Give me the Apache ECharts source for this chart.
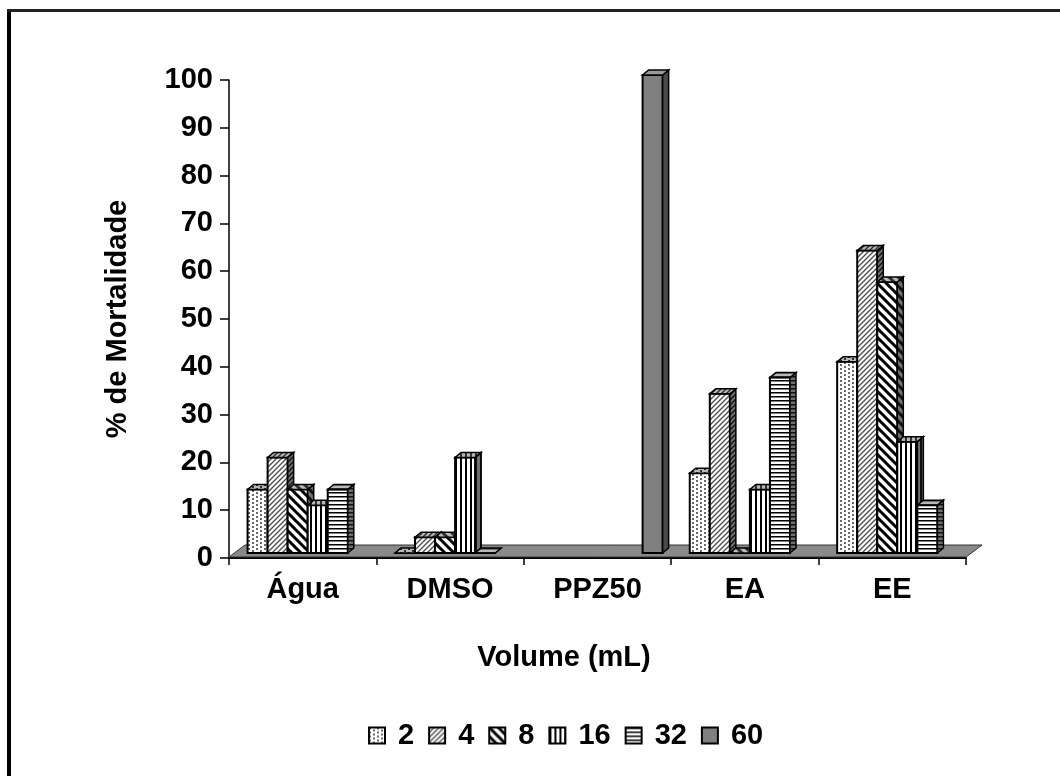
<!DOCTYPE html>
<html>
<head>
<meta charset="utf-8">
<script src="https://cdn.jsdelivr.net/npm/echarts@6/dist/echarts.min.js"></script>
<style>
html,body{margin:0;padding:0;background:#fff;}
#chart{width:1060px;height:776px;}
</style>
</head>
<body>
<div id="chart"></div>
<script>
// ---- data ----
const categories = ['Água', 'DMSO', 'PPZ50', 'EA', 'EE'];
const seriesNames = ['2', '4', '8', '16', '32', '60'];
const v2  = [13.3, 0,   null, 16.7, 40];
const v4  = [20,   3.3, null, 33.3, 63.3];
const v8  = [13.3, 3.3, null, 0,    56.7];
const v16 = [10,   20,  null, 13.3, 23.3];
const v32 = [13.3, 0,   null, 36.7, 10];
const v60 = [null, null, 100, null, null];
const yMin = 0, yMax = 100, yInterval = 10;
const allValues = [v2, v4, v8, v16, v32, v60];

// ---- patterns ----
function makePattern(kind, bg, fg) {
  const c = document.createElement('canvas');
  let s = 8;
  if (kind === 'fdiag') s = 5;
  if (kind === 'bdiag') s = 9;
  if (kind === 'vert') s = 5;
  if (kind === 'horiz') s = 4;
  c.width = s; c.height = s;
  const g = c.getContext('2d');
  g.fillStyle = bg; g.fillRect(0, 0, s, s);
  g.fillStyle = fg; g.strokeStyle = fg;
  if (kind === 'dots') {
    [[0,0],[4,2],[0,4],[4,6]].forEach(p => g.fillRect(p[0], p[1], 2, 2));
  } else if (kind === 'fdiag') {
    g.lineWidth = 1.4;
    g.beginPath();
    g.moveTo(0, s); g.lineTo(s, 0);
    g.moveTo(-1, 1); g.lineTo(1, -1);
    g.moveTo(s - 1, s + 1); g.lineTo(s + 1, s - 1);
    g.stroke();
  } else if (kind === 'bdiag') {
    g.lineWidth = 3;
    g.beginPath();
    g.moveTo(0, 0); g.lineTo(s, s);
    g.moveTo(-2, s - 2); g.lineTo(2, s + 2);
    g.moveTo(s - 2, -2); g.lineTo(s + 2, 2);
    g.stroke();
  } else if (kind === 'vert') {
    g.fillRect(0, 0, 2, s);
  } else if (kind === 'horiz') {
    g.fillRect(0, 0, s, 1);
    g.globalAlpha = 0.5; g.fillRect(0, 1, s, 1);
  }
  return { image: c, repeat: 'repeat' };
}
const kinds = ['dots', 'fdiag', 'bdiag', 'vert', 'horiz', 'solid'];
const frontFill = kinds.map((k, i) => i === 5 ? '#808080' : makePattern(k, '#ffffff', k === 'dots' ? '#6a6a6a' : (k === 'fdiag' ? '#505050' : '#000000')));
const topFill   = kinds.map((k, i) => i === 5 ? '#9a9a9a' : makePattern(k, '#b8b8b8', '#303030'));
const sideFill  = kinds.map((k, i) => i === 5 ? '#4a4a4a' : makePattern(k, '#707070', '#101010'));

const DX = 6, DY = -5;      // bar depth
const SHIFT_X = 5, SHIFT_Y = -5; // bars sit mid-depth of floor

function barRenderer(s) {
  return function (params, api) {
    const i = api.value(0), v = api.value(1);
    if (isNaN(v)) return null;
    const base = api.coord([i, 0]);
    const top = api.coord([i, v]);
    const band = api.size([1, 0])[0];
    const w = band * 0.136;
    const x0 = base[0] - 3 * w + SHIFT_X + s * w;
    const yB = base[1] + SHIFT_Y;
    const yT = top[1] + SHIFT_Y;
    const line = '#000';
    return {
      type: 'group',
      children: [
        { type: 'rect', shape: { x: x0, y: yT, width: w, height: yB - yT },
          style: { fill: frontFill[s], stroke: line, lineWidth: 2 } },
        { type: 'polygon', shape: { points: [[x0 + w, yT], [x0 + w + DX, yT + DY], [x0 + w + DX, yB + DY], [x0 + w, yB]] },
          style: { fill: sideFill[s], stroke: line, lineWidth: 1.5 } },
        { type: 'polygon', shape: { points: [[x0, yT], [x0 + w, yT], [x0 + w + DX, yT + DY], [x0 + DX, yT + DY]] },
          style: { fill: topFill[s], stroke: line, lineWidth: 1.5 } }
      ]
    };
  };
}

const FONT = "'Liberation Sans', Arial, sans-serif";
const FS = 29;
const series = [];
// floor of the 3D plot
series.push({
  type: 'custom',
  name: 'floor',
  silent: true,
  z: 1,
  data: [[0, 0]],
  encode: { x: 0, y: 1 },
  renderItem: function (params, api) {
    const cs = params.coordSys;
    const yb = cs.y + cs.height - 1;
    const x = cs.x, w = cs.width;
    return {
      type: 'polygon',
      shape: { points: [[x, yb], [x + w, yb], [x + w + 16, yb - 12], [x + 16, yb - 12]] },
      style: { fill: '#8a8a8a', stroke: '#333', lineWidth: 1 }
    };
  }
});
seriesNames.forEach((name, s) => {
  const data = [];
  allValues[s].forEach((v, i) => { if (v !== null) data.push([i, v]); });
  series.push({
    type: 'custom',
    name: name,
    z: 2 + s,
    data: data,
    encode: { x: 0, y: 1 },
    itemStyle: { color: frontFill[s], borderColor: '#000', borderWidth: 2 },
    renderItem: barRenderer(s)
  });
});

const chart = echarts.init(document.getElementById('chart'), null, { renderer: 'canvas' });
chart.setOption({
  animation: false,
  backgroundColor: '#fff',
  grid: { left: 229, right: 94, top: 80, bottom: 218, containLabel: false },
  xAxis: {
    type: 'category',
    data: categories,
    boundaryGap: true,
    name: 'Volume (mL)',
    nameLocation: 'middle',
    nameGap: 85,
    nameTextStyle: { fontFamily: FONT, fontWeight: 'bold', fontSize: FS, color: '#000', padding: [0, 67, 0, 0] },
    axisLine: { show: true, lineStyle: { color: '#000', width: 2 } },
    axisTick: { show: true, length: 7, alignWithLabel: false, lineStyle: { color: '#000', width: 1.5 } },
    axisLabel: { fontFamily: FONT, fontWeight: 'bold', fontSize: FS, color: '#000', margin: 17 },
    splitLine: { show: false }
  },
  yAxis: {
    type: 'value',
    min: yMin, max: yMax, interval: yInterval,
    name: '% de Mortalidade',
    nameLocation: 'middle',
    nameGap: 97,
    nameTextStyle: { fontFamily: FONT, fontWeight: 'bold', fontSize: FS, color: '#000' },
    axisLine: { show: true, lineStyle: { color: '#000', width: 1.5 } },
    axisTick: { show: true, length: 9, lineStyle: { color: '#000', width: 1.5 } },
    axisLabel: { fontFamily: FONT, fontWeight: 'bold', fontSize: FS, color: '#000', margin: 16 },
    splitLine: { show: false }
  },
  legend: {
    data: seriesNames,
    left: 368,
    top: 721,
    padding: 0,
    orient: 'horizontal',
    icon: 'rect',
    itemWidth: 16,
    itemHeight: 16,
    itemGap: 14,
    itemStyle: { borderColor: '#000', borderWidth: 2 },
    selectedMode: false,
    formatter: function (n) { return '{t|' + n + '}'; },
    textStyle: {
      fontFamily: FONT, fontWeight: 'bold', fontSize: FS, color: '#000',
      rich: { t: { fontFamily: FONT, fontWeight: 'bold', fontSize: FS, color: '#000', padding: [0, 0, 0, 8] } }
    }
  },
  graphic: [
    { type: 'rect', shape: { x: 7, y: 9, width: 4, height: 767 }, style: { fill: '#000' }, silent: true },
    { type: 'rect', shape: { x: 7, y: 9, width: 1053, height: 3 }, style: { fill: '#222' }, silent: true }
  ],
  series: series
});
</script>
</body>
</html>
